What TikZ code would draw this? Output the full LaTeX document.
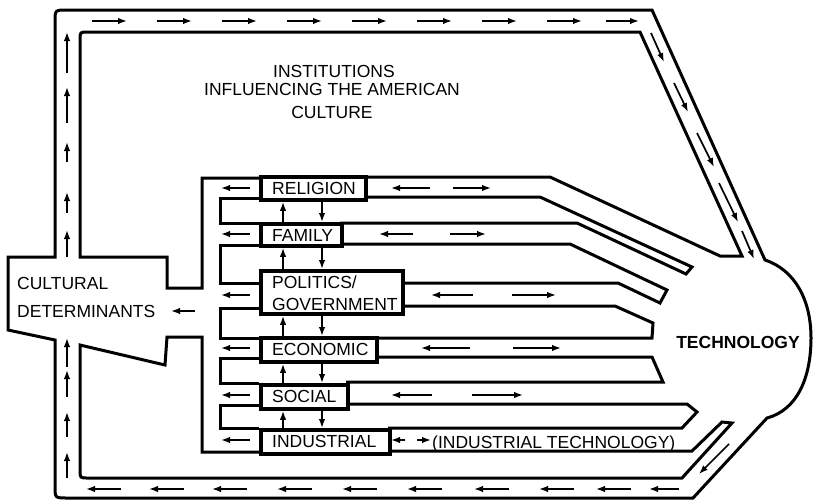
\documentclass[tikz,border=0pt]{standalone}
\usepackage{fontspec}
\setmainfont{Liberation Sans}
\usetikzlibrary{arrows.meta}
\begin{document}
\begin{tikzpicture}[x=1pt,y=-1pt,
  wall/.style={line width=3pt, line join=miter},
  box/.style={draw, line width=3.8pt, inner sep=0pt, anchor=north west},
  arr/.style={line width=1.7pt, -{Latex[length=9pt,width=6.5pt]}},
  lbl/.style={inner sep=0pt, anchor=base west, font=\fontsize{17.5}{20}\selectfont},
  lblc/.style={inner sep=0pt, anchor=base, font=\fontsize{17.5}{20}\selectfont},
]
\useasboundingbox (0,0) rectangle (813,501);

% ---- outer loop outline ----
\draw[wall] (8,257) -- (55,257) -- (55,22) .. controls (55,10) .. (67,10) -- (652,10) -- (765,260)
  .. controls (795,270) and (811,300) .. (811,338)
  .. controls (811,378) and (797,410) .. (767,418) -- (693,498) -- (67,498)
  .. controls (55,498) .. (55,486) -- (55,340) -- (8,330) -- cycle;

% ---- inner upper outline ----
\draw[wall] (364,177) -- (550,177) -- (720,256) -- (742,256) -- (640,32) -- (88,32)
  .. controls (80,32) .. (80,40) -- (80,257) -- (167,257) -- (167,288) -- (202,288)
  -- (202,178) -- (259,178);

% ---- inner lower outline ----
\draw[wall] (259,452) -- (202,452) -- (202,337) -- (167,337) -- (165,365) -- (80,345)
  -- (80,470) .. controls (80,478) .. (88,478) -- (682,478) -- (732,423) -- (722,422)
  -- (692,451) -- (388,451);

% ---- right channel separators ----
\draw[wall] (364,197) -- (540,197) -- (692,267) -- (686,274) -- (577,223) -- (340,223);
\draw[wall] (340,244) -- (570,244) -- (667,290) -- (660,303) -- (618,283) -- (401,283);
\draw[wall] (401,306) -- (615,306) -- (653,323) -- (652,338) -- (375,338);
\draw[wall] (375,357) -- (652,357) -- (663,382) -- (346,382);
\draw[wall] (346,404) -- (687,404) -- (697,412) -- (682,428) -- (388,428);

% ---- left separators ----
\draw[wall] (259,198) -- (220,198) -- (220,223) -- (259,223);
\draw[wall] (259,245) -- (220,245) -- (220,283) -- (259,283);
\draw[wall] (259,308) -- (220,308) -- (220,338) -- (259,338);
\draw[wall] (259,358) -- (220,358) -- (220,383) -- (259,383);
\draw[wall] (259,405) -- (220,405) -- (220,428) -- (259,428);

% ---- boxes ----
\node[box, fill=white, minimum width=105pt, minimum height=23pt] (rel) at (259,175) {};
\node[box, fill=white, minimum width=81pt,  minimum height=22pt] (fam) at (259,222) {};
\node[box, fill=white, minimum width=142pt, minimum height=43pt] (pol) at (259,269) {};
\node[box, fill=white, minimum width=116pt, minimum height=24pt] (eco) at (259,336) {};
\node[box, fill=white, minimum width=87pt,  minimum height=24pt] (soc) at (259,383) {};
\node[box, fill=white, minimum width=129pt, minimum height=24pt] (ind) at (259,428) {};

\node[lbl] (trel) at (272,194) {RELIGION};
\node[lbl] (tfam) at (272,241) {FAMILY};
\node[lbl] (tpol1) at (272,288) {POLITICS/};
\node[lbl] (tpol2) at (272,310) {GOVERNMENT};
\node[lbl] (teco) at (272,355) {ECONOMIC};
\node[lbl] (tsoc) at (272,402) {SOCIAL};
\node[lbl] (tind) at (272,447) {INDUSTRIAL};

% ---- other texts ----
\node[lblc] (title1) at (334,77) {INSTITUTIONS};
\node[lblc] (title2) at (332,95) {INFLUENCING THE AMERICAN};
\node[lblc] (title3) at (332,118) {CULTURE};
\node[lbl] (cult1) at (17,289) {CULTURAL};
\node[lbl] (cult2) at (17,317) {DETERMINANTS};
\node[inner sep=0pt, anchor=base, font=\bfseries\fontsize{17.5}{20}\selectfont] (tech) at (738,348) {TECHNOLOGY};
\node[lbl] (indtech) at (432,448) {(INDUSTRIAL TECHNOLOGY)};

% ---- vertical arrows between boxes ----
\coordinate (ux) at (283,0);
\coordinate (dx) at (322,0);
\foreach \a/\b in {rel/fam, fam/pol, pol/eco, eco/soc, soc/ind}{
  \draw[arr] (\b.north -| ux) -- (\a.south -| ux);
  \draw[arr] (\a.south -| dx) -- (\b.north -| dx);
}

% ---- left channel arrows ----
\foreach \y in {188,234,295,348,395,440}{
  \draw[arr] (250,\y) -- (221,\y);
}
\draw[arr] (195,311) -- (171,311);

% ---- right channel arrows ----
\foreach \y/\la/\lb/\ra/\rb in {188/430/391/453/491, 234/413/379/450/486, 295/473/431/512/556,
  348/470/421/513/561, 395/432/391/472/523}{
  \draw[arr] (\la,\y) -- (\lb,\y);
  \draw[arr] (\ra,\y) -- (\rb,\y);
}
\draw[arr] (405,440) -- (391,440);
\draw[arr] (417,440) -- (431,440);

% ---- top loop arrows ----
\foreach \x in {92,157,222,287,352,417,482,547}{
  \draw[arr] (\x,21) -- (\x+35,21);
}
\draw[arr] (606,21) -- (639,21);

% ---- right diagonal arrows ----
\draw[arr] (651,33) -- (664,62);
\draw[arr] (674,83) -- (688,112);
\draw[arr] (697,133) -- (714,167);
\draw[arr] (719,183) -- (738,222);
\draw[arr] (742,231) -- (754,259);

% ---- bottom-right diagonal arrow ----
\draw[arr] (729,444) -- (699,474);

% ---- bottom loop arrows ----
\foreach \x in {87,150,213,278,343,408,475,540,597}{
  \draw[arr] (\x+34,489) -- (\x-1,489);
}
\draw[arr] (679,489) -- (649,489);

% ---- left loop arrows ----
\foreach \t/\h in {73/32, 123/87, 162/142, 213/192, 257/230, 367/338, 397/370, 437/412, 478/452}{
  \draw[arr] (67,\t) -- (67,\h);
}
\end{tikzpicture}
\end{document}
